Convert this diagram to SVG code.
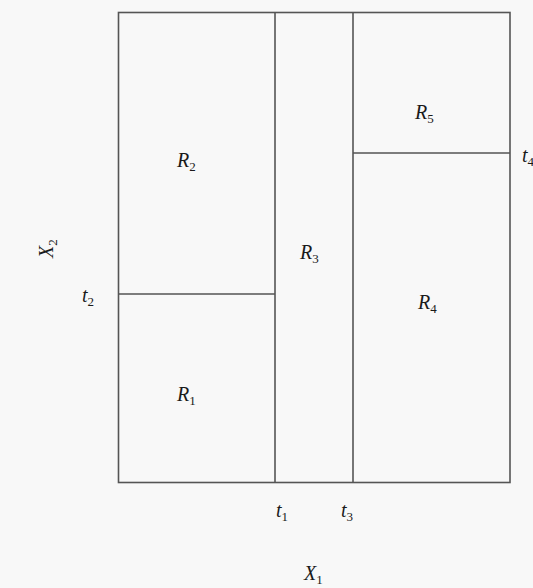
<svg xmlns="http://www.w3.org/2000/svg" width="533" height="588" viewBox="0 0 533 588">
<style>
.ln{stroke:#555;stroke-width:1.6;fill:none}
.lb{font-family:"Liberation Serif","DejaVu Serif",serif;font-style:italic;font-size:20px;fill:#1a1a1a}
.sb{font-style:normal;font-size:13px}
</style>
<rect width="533" height="588" fill="#f8f8f8"/>
<g id="regions">
<rect x="118.5" y="12.5" width="391.5" height="470" fill="#ffffff" class="ln"/>
</g>
<g id="connectors">
<line class="ln" x1="275" y1="12.5" x2="275" y2="482.5"/>
<line class="ln" x1="353" y1="12.5" x2="353" y2="482.5"/>
<line class="ln" x1="118.5" y1="294" x2="275" y2="294"/>
<line class="ln" x1="353" y1="153" x2="510" y2="153"/>
</g>
<g id="R1"><text class="lb" x="177" y="401">R<tspan class="sb" dy="4">1</tspan></text></g>
<g id="R2"><text class="lb" x="177" y="167">R<tspan class="sb" dy="4">2</tspan></text></g>
<g id="R3"><text class="lb" x="300" y="259">R<tspan class="sb" dy="4">3</tspan></text></g>
<g id="R4"><text class="lb" x="418" y="309">R<tspan class="sb" dy="4">4</tspan></text></g>
<g id="R5"><text class="lb" x="415" y="119">R<tspan class="sb" dy="4">5</tspan></text></g>
<g id="t1"><text class="lb" x="276" y="517">t<tspan class="sb" dy="4">1</tspan></text></g>
<g id="t3"><text class="lb" x="341" y="517">t<tspan class="sb" dy="4">3</tspan></text></g>
<g id="t2"><text class="lb" x="82" y="302">t<tspan class="sb" dy="4">2</tspan></text></g>
<g id="t4"><text class="lb" x="522" y="162">t<tspan class="sb" dy="4">4</tspan></text></g>
<g id="X1"><text class="lb" x="304" y="580">X<tspan class="sb" dy="4">1</tspan></text></g>
<g id="X2"><text class="lb" transform="translate(53,258) rotate(-90)">X<tspan class="sb" dy="4">2</tspan></text></g>
</svg>
